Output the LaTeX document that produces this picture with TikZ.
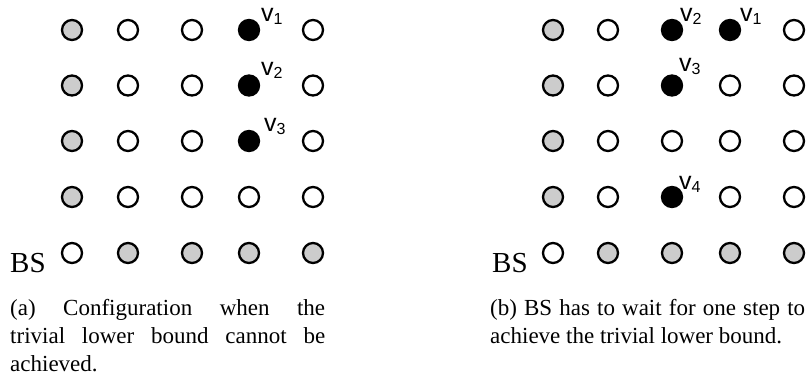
\documentclass[tikz,border=0pt]{standalone}
\usepackage{fontspec}
\setmainfont{Liberation Serif}
\newfontfamily\labelfont{Liberation Sans}
\newcommand\vsub[1]{\raisebox{-3pt}{\fontsize{16}{16}\selectfont #1}}
\tikzset{
  site/.style={circle, draw=black, line width=2.3pt, minimum size=20pt, inner sep=0pt},
  open/.style={site, fill=white},
  shaded/.style={site, fill=black!20},
  taken/.style={site, fill=black},
  vlab/.style={anchor=base west, inner sep=0pt, font=\labelfont\fontsize{25}{25}\selectfont},
  bslab/.style={anchor=base west, inner sep=0pt, font=\fontsize{29}{29}\selectfont},
  capt/.style={anchor=base west, inner sep=0pt, text width=315pt, align=justify,
    font=\fontsize{23}{28.3}\selectfont}
}
\begin{document}
\begin{tikzpicture}[x=1pt, y=-1pt]
\useasboundingbox (0,0) rectangle (808,383);

% ---- panel (a) ----
\foreach \x/\s [count=\c] in {72/shaded,128/open,192/open,249/taken,313/open}
  \node[\s] (a-1-\c) at (\x,30) {};
\foreach \x/\s [count=\c] in {72/shaded,128/open,192/open,249/taken,313/open}
  \node[\s] (a-2-\c) at (\x,85.5) {};
\foreach \x/\s [count=\c] in {72/shaded,128/open,192/open,249/taken,313/open}
  \node[\s] (a-3-\c) at (\x,141) {};
\foreach \x/\s [count=\c] in {72/shaded,128/open,192/open,249/open,313/open}
  \node[\s] (a-4-\c) at (\x,197) {};
\foreach \x/\s [count=\c] in {72/open,128/shaded,192/shaded,249/shaded,313/shaded}
  \node[\s] (a-5-\c) at (\x,253) {};

\node[vlab] (a-v1) at (261,21) {v\vsub{1}};
\node[vlab] (a-v2) at (261,75) {v\vsub{2}};
\node[vlab] (a-v3) at (264,131) {v\vsub{3}};
\node[bslab] (a-bs) at (10,272) {BS};

\node[capt] (a-cap) at (10,315)
  {(a)\ Configuration when the\linebreak trivial lower bound cannot be\linebreak achieved.};

% ---- panel (b) ----
\foreach \x/\s [count=\c] in {553/shaded,608/open,672/taken,730/taken,794/open}
  \node[\s] (b-1-\c) at (\x,30) {};
\foreach \x/\s [count=\c] in {553/shaded,608/open,672/taken,730/open,794/open}
  \node[\s] (b-2-\c) at (\x,85.5) {};
\foreach \x/\s [count=\c] in {553/shaded,608/open,672/open,730/open,794/open}
  \node[\s] (b-3-\c) at (\x,141) {};
\foreach \x/\s [count=\c] in {553/shaded,608/open,672/taken,730/open,794/open}
  \node[\s] (b-4-\c) at (\x,197) {};
\foreach \x/\s [count=\c] in {553/open,608/shaded,672/shaded,730/shaded,794/shaded}
  \node[\s] (b-5-\c) at (\x,253) {};

\node[vlab] (b-v2) at (680,21) {v\vsub{2}};
\node[vlab] (b-v1) at (740,21) {v\vsub{1}};
\node[vlab] (b-v3) at (679,71) {v\vsub{3}};
\node[vlab] (b-v4) at (679,189) {v\vsub{4}};
\node[bslab] (b-bs) at (492,272) {BS};

\node[capt] (b-cap) at (490,315)
  {(b)\ BS has to wait for one step to\linebreak achieve the trivial lower bound.};
\end{tikzpicture}
\end{document}
